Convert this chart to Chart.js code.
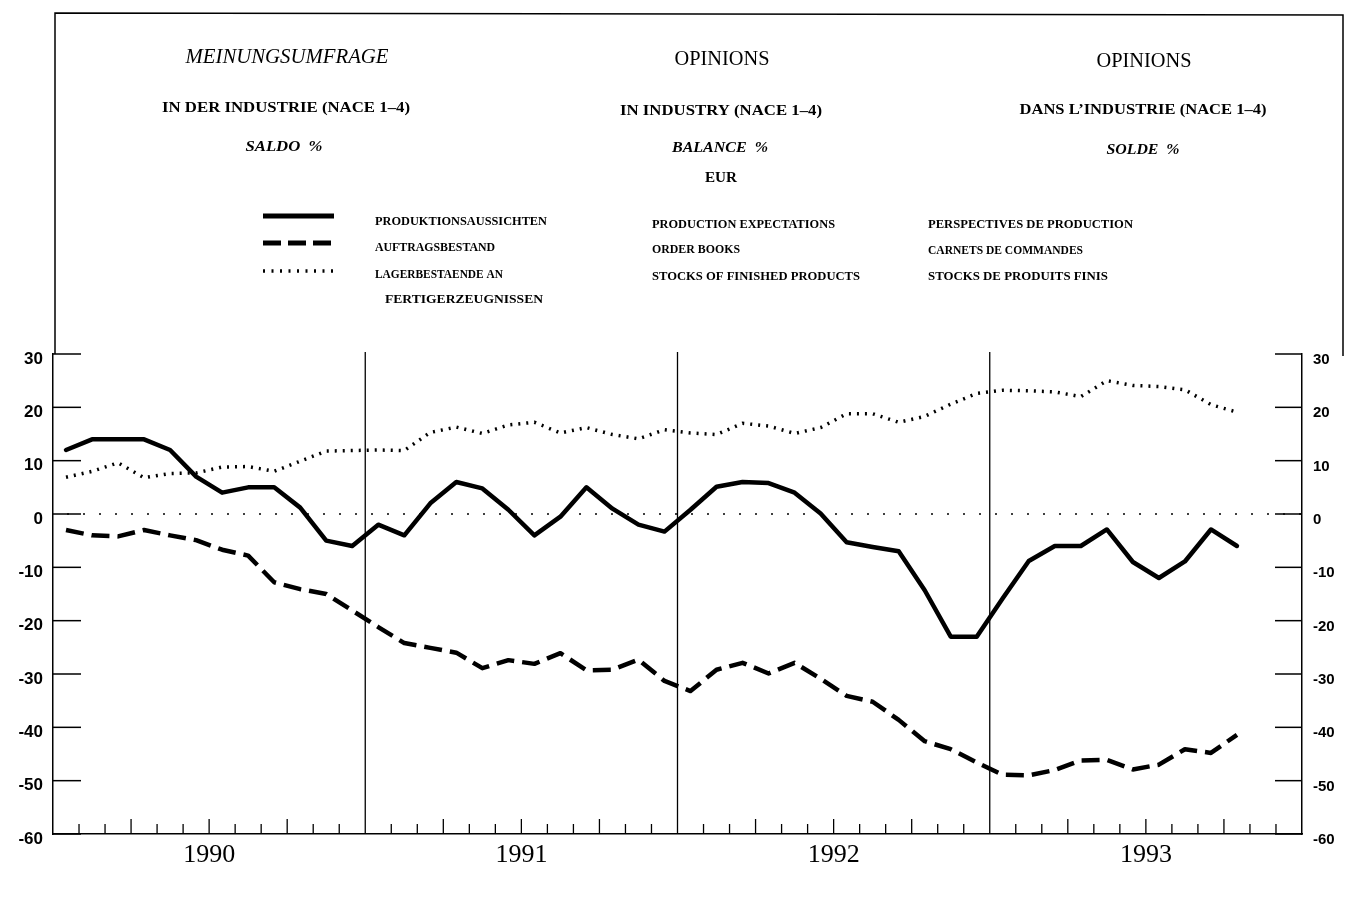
<!DOCTYPE html>
<html><head><meta charset="utf-8">
<style>html,body{margin:0;padding:0;background:#fff;overflow:hidden}#wrap{width:1362px;height:897px;position:relative}</style>
<script src="https://cdn.jsdelivr.net/npm/chart.js@4.4.1/dist/chart.umd.min.js"></script>
</head><body><div id="wrap"><canvas id="c" width="1362" height="897"></canvas></div>
<script>
// ---- data (monthly, Jan 1990 - Oct 1993) ----
const months = [
 '1990-01','1990-02','1990-03','1990-04','1990-05','1990-06','1990-07','1990-08','1990-09','1990-10','1990-11','1990-12',
 '1991-01','1991-02','1991-03','1991-04','1991-05','1991-06','1991-07','1991-08','1991-09','1991-10','1991-11','1991-12',
 '1992-01','1992-02','1992-03','1992-04','1992-05','1992-06','1992-07','1992-08','1992-09','1992-10','1992-11','1992-12',
 '1993-01','1993-02','1993-03','1993-04','1993-05','1993-06','1993-07','1993-08','1993-09','1993-10'];
const yearLabels = ['1990','1991','1992','1993'];
const yTickValues = [30,20,10,0,-10,-20,-30,-40,-50,-60];
const productionExpectations = [12,14,14,14,12,7,4,5,5,1.2,-5,-6,
 -2,-4,2,6,4.8,0.8,-4,-0.5,5,1,-2,-3.3,
 0.8,5.1,6,5.8,4,0.1,-5.3,-6.2,-7,-14.3,-23,-23,
 -15.8,-8.8,-6,-6,-2.9,-9,-12,-8.9,-2.9,-6];
const orderBooks = [-3,-4,-4.2,-3,-4,-4.9,-6.7,-7.8,-12.8,-14.1,-15,-18.1,
 -21.2,-24.2,-25.1,-26,-28.9,-27.4,-28.1,-26.1,-29.3,-29.2,-27.3,-31.3,
 -33.2,-29.2,-27.9,-29.9,-27.9,-30.9,-34.1,-35.2,-38.6,-42.6,-44.1,-46.6,
 -48.9,-49,-48,-46.2,-46.1,-47.9,-47,-44.1,-44.8,-41.4];
const stocksFinished = [6.9,8,9.6,6.8,7.6,7.7,8.8,8.9,8,9.9,11.8,11.9,
 12,11.9,15.3,16.3,15.1,16.7,17.2,15.2,16.2,14.9,14.1,15.8,
 15.2,14.9,17,16.5,15.1,16.2,18.8,18.8,17.2,18.3,20.6,22.6,
 23.2,23.1,22.9,22,25,24.1,23.9,23.3,20.5,19.1];

const toPts = arr => arr.map((v,i)=>({x:i+0.5,y:v}));

const texts = [
 {t:'MEINUNGSUMFRAGE', x:287, y:57, f:'italic 21px "Liberation Serif"', w:203, a:'center'},
 {t:'IN DER INDUSTRIE (NACE 1–4)', x:286, y:108, f:'bold 15px "Liberation Serif"', w:248, a:'center'},
 {t:'SALDO  %', x:284, y:147, f:'italic bold 15px "Liberation Serif"', w:77, a:'center'},
 {t:'OPINIONS', x:722, y:60, f:'20px "Liberation Serif"', w:95, a:'center'},
 {t:'IN INDUSTRY (NACE 1–4)', x:721, y:111, f:'bold 15px "Liberation Serif"', w:202, a:'center'},
 {t:'BALANCE  %', x:720, y:148, f:'italic bold 15px "Liberation Serif"', w:96, a:'center'},
 {t:'EUR', x:721, y:178, f:'bold 15px "Liberation Serif"', w:32, a:'center'},
 {t:'OPINIONS', x:1144, y:62, f:'20px "Liberation Serif"', w:95, a:'center'},
 {t:'DANS L\u2019INDUSTRIE (NACE 1–4)', x:1143, y:110, f:'bold 15px "Liberation Serif"', w:247, a:'center'},
 {t:'SOLDE  %', x:1143, y:150, f:'italic bold 15px "Liberation Serif"', w:73, a:'center'},
 {t:'PRODUKTIONSAUSSICHTEN', x:375, y:222, f:'bold 12px "Liberation Serif"', w:172, a:'left'},
 {t:'AUFTRAGSBESTAND', x:375, y:248, f:'bold 12px "Liberation Serif"', w:120, a:'left'},
 {t:'LAGERBESTAENDE AN', x:375, y:275, f:'bold 12px "Liberation Serif"', w:128, a:'left'},
 {t:'FERTIGERZEUGNISSEN', x:385, y:300, f:'bold 12px "Liberation Serif"', w:158, a:'left'},
 {t:'PRODUCTION EXPECTATIONS', x:652, y:225, f:'bold 12px "Liberation Serif"', w:183, a:'left'},
 {t:'ORDER BOOKS', x:652, y:250, f:'bold 12px "Liberation Serif"', w:88, a:'left'},
 {t:'STOCKS OF FINISHED PRODUCTS', x:652, y:277, f:'bold 12px "Liberation Serif"', w:208, a:'left'},
 {t:'PERSPECTIVES DE PRODUCTION', x:928, y:225, f:'bold 12px "Liberation Serif"', w:205, a:'left'},
 {t:'CARNETS DE COMMANDES', x:928, y:251, f:'bold 12px "Liberation Serif"', w:155, a:'left'},
 {t:'STOCKS DE PRODUITS FINIS', x:928, y:277, f:'bold 12px "Liberation Serif"', w:180, a:'left'}
];

const decor = {
 id:'decor',
 beforeDatasetsDraw(chart){
  const ctx = chart.ctx, xs = chart.scales.x, ys = chart.scales.y, a = chart.chartArea;
  ctx.save();
  ctx.strokeStyle='#000';
  // zero dotted line
  ctx.lineWidth=1.5; ctx.setLineDash([2,14]);
  const y0 = ys.getPixelForValue(0);
  ctx.beginPath(); ctx.moveTo(a.left+14,y0); ctx.lineTo(a.right,y0); ctx.stroke();
  ctx.setLineDash([]);
  // year separators
  ctx.lineWidth=1.3;
  [12,24,36].forEach(m=>{const px=xs.getPixelForValue(m);ctx.beginPath();ctx.moveTo(px,a.bottom);ctx.lineTo(px,ys.getPixelForValue(30)-2);ctx.stroke();});
  // month ticks
  for(let m=1;m<48;m++){ if(m%12===0) continue; const px=xs.getPixelForValue(m); const L=(m%3===0)?15:10;
   ctx.beginPath();ctx.moveTo(px,a.bottom);ctx.lineTo(px,a.bottom-L);ctx.stroke();}
  // y ticks inward
  ctx.lineWidth=1.5;
  yTickValues.forEach(v=>{const py=ys.getPixelForValue(v);
   ctx.beginPath();ctx.moveTo(a.left,py);ctx.lineTo(a.left+28,py);ctx.stroke();
   ctx.beginPath();ctx.moveTo(a.right,py);ctx.lineTo(a.right-27,py);ctx.stroke();});
  // outer frame
  ctx.lineWidth=1.5;
  ctx.beginPath();ctx.moveTo(a.left+2,a.top);ctx.lineTo(a.left+2,13);ctx.lineTo(1343,15);ctx.lineTo(1343,a.top+2);ctx.stroke();
  // legend samples
  ctx.lineWidth=5; ctx.lineCap='butt';
  ctx.beginPath();ctx.moveTo(263,216);ctx.lineTo(334,216);ctx.stroke();
  ctx.setLineDash([18,7]);
  ctx.beginPath();ctx.moveTo(263,243);ctx.lineTo(334,243);ctx.stroke();
  ctx.lineWidth=3.5; ctx.setLineDash([2,6.5]);
  ctx.beginPath();ctx.moveTo(263,271);ctx.lineTo(334,271);ctx.stroke();
  ctx.setLineDash([]);
  // texts
  ctx.fillStyle='#000'; ctx.textBaseline='middle';
  texts.forEach(o=>{ctx.font=o.f; const mw=ctx.measureText(o.t).width; const s=o.w/mw;
   ctx.save(); ctx.translate(o.x,o.y); ctx.scale(s,1); ctx.textAlign=o.a; ctx.fillText(o.t,0,0); ctx.restore();});
  ctx.restore();
 }
};

new Chart(document.getElementById('c'),{
 type:'line',
 data:{datasets:[
  {label:'PRODUKTIONSAUSSICHTEN / PRODUCTION EXPECTATIONS / PERSPECTIVES DE PRODUCTION',data:toPts(productionExpectations),borderColor:'#000',borderWidth:4.5,pointRadius:0,tension:0,borderJoinStyle:'round',borderCapStyle:'round'},
  {label:'AUFTRAGSBESTAND / ORDER BOOKS / CARNETS DE COMMANDES',data:toPts(orderBooks),borderColor:'#000',borderWidth:4.5,pointRadius:0,tension:0,borderDash:[18,8],borderJoinStyle:'round'},
  {label:'LAGERBESTAENDE AN FERTIGERZEUGNISSEN / STOCKS OF FINISHED PRODUCTS / STOCKS DE PRODUITS FINIS',data:toPts(stocksFinished),borderColor:'#000',borderWidth:3.5,pointRadius:0,tension:0,borderDash:[2,6]}
 ]},
 plugins:[decor],
 options:{
  responsive:false, animation:false, devicePixelRatio:1,
  layout:{padding:{top:354,left:0,right:0,bottom:0}},
  plugins:{legend:{display:false},tooltip:{enabled:false}},
  scales:{
   x:{type:'linear',min:0,max:48,position:'bottom',
      grid:{display:false,drawTicks:false},
      border:{display:true,color:'#000',width:1.5},
      ticks:{stepSize:1,autoSkip:false,maxRotation:0,padding:6,color:'#000',
        font:{family:'"Liberation Serif"',size:26},
        callback:v=> (v%12===6) ? yearLabels[(v-6)/12] : ''},
      afterFit:s=>{s.height=63;}},
   y:{position:'left',min:-60,max:30,
      grid:{display:false,drawTicks:false},
      border:{display:true,color:'#000',width:1.5},
      ticks:{stepSize:10,padding:10,labelOffset:5,color:'#000',font:{family:'"Liberation Sans"',size:17,weight:'bold'}},
      afterFit:s=>{s.width=53;}},
   y2:{position:'right',min:-60,max:30,
      grid:{display:false,drawTicks:false},
      border:{display:true,color:'#000',width:1.5},
      ticks:{stepSize:10,padding:11,labelOffset:6,color:'#000',font:{family:'"Liberation Sans"',size:15,weight:'bold'}},
      afterFit:s=>{s.width=60;}}
  }
 }
});
</script></body></html>
